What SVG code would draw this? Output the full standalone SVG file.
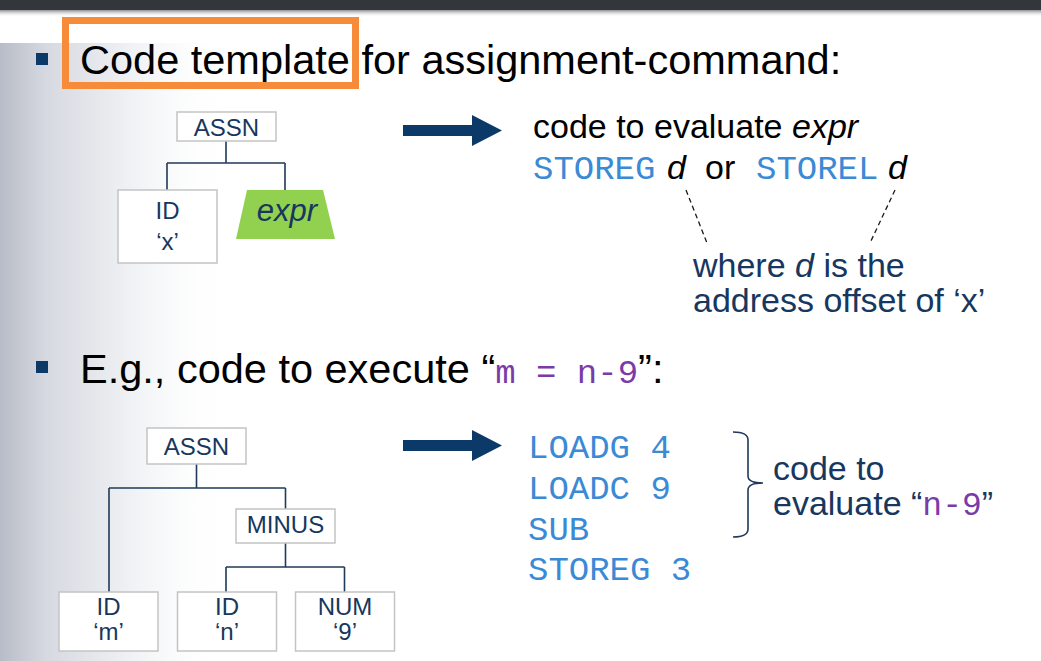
<svg xmlns="http://www.w3.org/2000/svg" width="1041" height="661" viewBox="0 0 1041 661">
  <style>
    .sans { font-family: "Liberation Sans", Arial, sans-serif; }
    .mono { font-family: "Liberation Mono", "Courier New", monospace; }
    .title { font-size: 41.5px; fill: #000; }
    .body { font-size: 34px; }
    .code { font-size: 34px; fill: #3a8ad6; }
    .purple { fill: #7a3aa8; }
    .navy { fill: #17375e; }
    .node rect { fill: #fff; stroke: #c4c4c4; stroke-width: 1.5; }
    .node text { font-family: "Liberation Sans", Arial, sans-serif; font-size: 24px; fill: #17375e; text-anchor: middle; }
    .edge { fill: none; stroke: #1f3a5a; stroke-width: 1.6; }
    .dash { fill: none; stroke: #1a1a1a; stroke-width: 1.3; stroke-dasharray: 5 3.5; }
    .arrow { fill: #0b3a68; }
    .bullet { fill: #0b3a68; }
  </style>
  <defs>
    <linearGradient id="sideShade" x1="0" y1="0" x2="1" y2="0">
      <stop offset="0" stop-color="#b8bcc8"/>
      <stop offset="0.2" stop-color="#d6d9e0"/>
      <stop offset="0.55" stop-color="#eef0f3"/>
      <stop offset="1" stop-color="#ffffff" stop-opacity="0"/>
    </linearGradient>
    <linearGradient id="barShadow" x1="0" y1="0" x2="0" y2="1">
      <stop offset="0" stop-color="#8a8d90"/>
      <stop offset="1" stop-color="#ffffff" stop-opacity="0"/>
    </linearGradient>
  </defs>

  <!-- page background -->
  <rect x="0" y="0" width="1041" height="661" fill="#fff"/>
  <rect x="0" y="43" width="230" height="618" fill="url(#sideShade)"/>
  <rect x="0" y="10" width="1041" height="7" fill="url(#barShadow)"/>
  <rect x="0" y="0" width="1041" height="10" fill="#33373b"/>

  <!-- heading 1 -->
  <rect class="bullet" x="36" y="53" width="12" height="12"/>
  <text class="sans title" x="80" y="74">Code template for assignment-command:</text>
  <rect x="65.5" y="20.5" width="290" height="65" fill="none" stroke="#f68b3a" stroke-width="7"/>

  <!-- template tree -->
  <g id="connectors-top">
    <path class="edge" d="M226 141 V163 M167 163 H285 M167 163 V190 M285 163 V190"/>
  </g>
  <g id="node-assn-top" class="node">
    <rect x="177" y="112" width="99" height="29"/>
    <text x="226.5" y="136">ASSN</text>
  </g>
  <g id="node-id-x" class="node">
    <rect x="118" y="190" width="99" height="73"/>
    <text x="167.5" y="219">ID</text>
    <text x="167.5" y="250">‘x’</text>
  </g>
  <g id="node-expr">
    <polygon points="247,190 323,190 335,239 236,239" fill="#92d050"/>
    <text class="sans" x="287" y="221" font-size="31" font-style="italic" fill="#17375e" text-anchor="middle">expr</text>
  </g>

  <!-- arrow 1 -->
  <polygon class="arrow" points="403,125 472,125 472,115 502,130.5 472,146 472,136 403,136"/>

  <!-- template code -->
  <text class="sans body" x="533" y="138" fill="#000">code to evaluate <tspan font-style="italic">expr</tspan></text>
  <text class="mono code" x="533" y="179">STOREG</text>
  <text class="sans body" x="667" y="179" font-style="italic" fill="#000">d</text>
  <text class="sans body" x="705" y="179" fill="#000">or</text>
  <text class="mono code" x="756" y="179">STOREL</text>
  <text class="sans body" x="888" y="179" font-style="italic" fill="#000">d</text>
  <g id="callout-lines">
    <path class="dash" d="M686 190 L707 243 M895 190 L870 243"/>
  </g>
  <text class="sans body navy" x="693" y="277">where <tspan font-style="italic">d</tspan> is the</text>
  <text class="sans body navy" x="693" y="312">address offset of ‘x’</text>

  <!-- heading 2 -->
  <rect class="bullet" x="36" y="361" width="12" height="12"/>
  <text class="sans title" x="80" y="383">E.g., code to execute “<tspan class="mono purple" font-size="34">m = n-9</tspan>”:</text>

  <!-- example tree -->
  <g id="connectors-bottom">
    <path class="edge" d="M196.5 464 V488 M109 488 H285.5 M109 488 V592 M285.5 488 V509"/>
    <path class="edge" d="M285.5 543 V567 M226 567 H344.5 M226 567 V592 M344.5 567 V592"/>
  </g>
  <g id="node-assn-bottom" class="node">
    <rect x="147" y="428" width="99" height="36"/>
    <text x="196.5" y="455">ASSN</text>
  </g>
  <g id="node-minus" class="node">
    <rect x="236" y="509" width="99" height="34"/>
    <text x="285.5" y="533">MINUS</text>
  </g>
  <g id="node-id-m" class="node">
    <rect x="59" y="592" width="99" height="59"/>
    <text x="108.5" y="615">ID</text>
    <text x="108.5" y="640">‘m’</text>
  </g>
  <g id="node-id-n" class="node">
    <rect x="177.5" y="592" width="99" height="59"/>
    <text x="227" y="615">ID</text>
    <text x="227" y="640">‘n’</text>
  </g>
  <g id="node-num-9" class="node">
    <rect x="295.5" y="592" width="99" height="59"/>
    <text x="345" y="615">NUM</text>
    <text x="345" y="640">‘9’</text>
  </g>

  <!-- arrow 2 -->
  <polygon class="arrow" points="403,440 472,440 472,430 502,445.5 472,461 472,451 403,451"/>

  <!-- example code -->
  <text class="mono code" x="528" y="458">LOADG 4</text>
  <text class="mono code" x="528" y="499">LOADC 9</text>
  <text class="mono code" x="528" y="540">SUB</text>
  <text class="mono code" x="528" y="580">STOREG 3</text>
  <path class="edge" d="M733 432 Q748 432 748 440 V476 Q748 483 763 483 Q748 483 748 490 V529 Q748 537 733 537" stroke="#17375e"/>
  <text class="sans body navy" x="773" y="480">code to</text>
  <text class="sans body navy" x="773" y="515">evaluate “<tspan class="mono purple" font-size="33">n-9</tspan>”</text>
</svg>
